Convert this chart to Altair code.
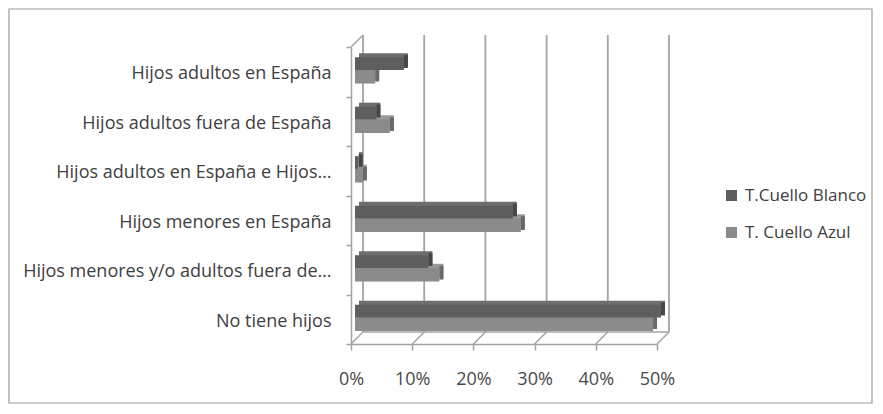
import altair as alt
import pandas as pd

categories = [
    "Hijos adultos en España",
    "Hijos adultos fuera de España",
    "Hijos adultos en España e Hijos…",
    "Hijos menores en España",
    "Hijos menores y/o adultos fuera de…",
    "No tiene hijos",
]
series = ["T.Cuello Blanco", "T. Cuello Azul"]
blanco = [8.0, 3.5, 0.6, 25.8, 12.0, 50.0]
azul = [3.3, 5.7, 1.3, 27.1, 13.8, 48.7]
ticks = [0, 10, 20, 30, 40, 50]

rows = []
for c, b, a in zip(categories, blanco, azul):
    rows.append({"cat": c, "serie": series[0], "v": b})
    rows.append({"cat": c, "serie": series[1], "v": a})
df = pd.DataFrame(rows)
tick_df = pd.DataFrame({"t": ticks})
one_df = pd.DataFrame({"k": [0]})

W, H = 306, 297
D = 12   # depth of the 3D box
d = 4    # depth of bars
LINE = "#a3a3a3"
FONT = "Open Sans"

xs = alt.Scale(domain=[0, 50], nice=False, zero=True)
ys = alt.Scale(domain=categories, paddingInner=0, paddingOuter=0)

x_axis = alt.Axis(
    title=None, values=ticks, labelExpr="datum.value + '%'", grid=False,
    domain=True, domainColor=LINE, domainWidth=1.5,
    ticks=True, tickColor=LINE, tickWidth=1.5, tickSize=6,
    labelFont=FONT, labelFontSize=18, labelColor="#4a4a4a", labelPadding=20,
    labelFlush=False, labelOverlap=False,
)
y_axis = alt.Axis(
    title=None, grid=False, domain=True, domainColor=LINE, domainWidth=1.5,
    ticks=True, tickBand="extent", tickColor=LINE, tickWidth=1.5, tickSize=5,
    labelFont=FONT, labelFontSize=18, labelColor="#404040", labelPadding=15,
    labelLimit=400, labelOffset=2,
)

base = alt.Chart(df)

# frame
frame = alt.Chart(one_df).mark_rect(fillOpacity=0, stroke="#9a9a9a", strokeWidth=1.2).encode(
    x=alt.value(-342), x2=alt.value(521), y=alt.value(-38), y2=alt.value(356)
)

# back gridlines
grid = alt.Chart(tick_df).mark_rule(color=LINE, strokeWidth=1.8, xOffset=D, x2Offset=D).encode(
    x=alt.X("t:Q", scale=xs, axis=x_axis),
    x2=alt.X2("t:Q"),
    y=alt.value(-D),
    y2=alt.value(H - D),
)

# floor diagonals
diag = alt.Chart(tick_df).mark_rule(color=LINE, strokeWidth=1.5, x2Offset=D).encode(
    x=alt.X("t:Q", scale=xs, axis=x_axis),
    x2=alt.X2("t:Q"),
    y=alt.value(H),
    y2=alt.value(H - D),
)
# back floor line
floor_back = alt.Chart(one_df).mark_rule(color=LINE, strokeWidth=1.5, xOffset=D, x2Offset=D).encode(
    x=alt.datum(0, scale=xs, axis=x_axis),
    x2=alt.datum(50),
    y=alt.value(H - D),
)
# top wall diagonal
wall_top = alt.Chart(one_df).mark_rule(color=LINE, strokeWidth=1.5, x2Offset=D).encode(
    x=alt.datum(0, scale=xs, axis=x_axis),
    x2=alt.datum(0),
    y=alt.value(0),
    y2=alt.value(-D),
)

color_scale = alt.Scale(domain=series, range=["#5e5e5e", "#8b8b8b"])
legend = alt.Legend(
    title=None, orient="none", legendX=372, legendY=140,
    symbolType="square", symbolSize=121, symbolStrokeWidth=0,
    labelFont=FONT, labelFontSize=17, labelColor="#404040",
    labelOffset=5, rowPadding=19,
)


def bars(name, top_col, side_col, yoff, hgt):
    sub = base.transform_filter(alt.datum.serie == name)
    enc_x = alt.X("v:Q", scale=xs, axis=x_axis)
    enc_y = alt.Y("cat:N", scale=ys, axis=y_axis, sort=categories)
    top = sub.mark_bar(
        color=top_col, height=hgt, xOffset=2 * d, x2Offset=2 * d, yOffset=yoff - d
    ).encode(x=enc_x, y=enc_y)
    side = sub.mark_bar(
        color=side_col, height=hgt, xOffset=d, x2Offset=2 * d, yOffset=yoff - d / 2
    ).encode(x=enc_x, x2=alt.X2("v:Q"), y=enc_y)
    front = sub.mark_bar(
        height=hgt, xOffset=d, x2Offset=d, yOffset=yoff
    ).encode(
        x=enc_x, y=enc_y,
        color=alt.Color("serie:N", scale=color_scale, legend=legend),
    )
    return [top, side, front]


az_layers = bars(series[1], "#9a9a9a", "#6a6a6a", 4.9, 13.8)
bl_layers = bars(series[0], "#6e6e6e", "#474747", -8.2, 12.8)

chart = alt.layer(
    frame, grid, diag, floor_back, wall_top,
    *az_layers, *bl_layers,
).properties(
    width=W, height=H,
    autosize=alt.AutoSizeParams(type="none"),
    padding={"left": 343, "top": 39, "right": 216, "bottom": 60},
    background="white",
).configure_view(stroke=None)

chart.save("out.html", embed_options={"renderer": "svg", "actions": False})
